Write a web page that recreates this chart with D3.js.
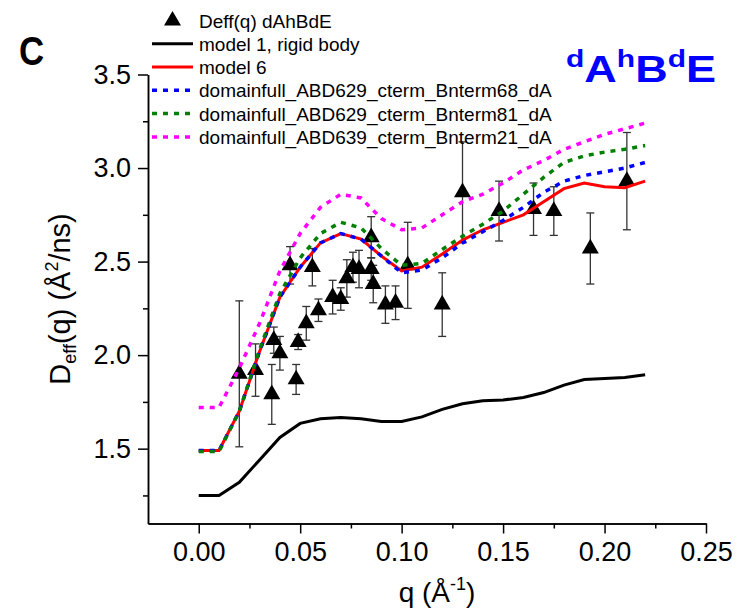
<!doctype html>
<html>
<head>
<meta charset="utf-8">
<title>Deff(q) dAhBdE</title>
<script src="https://d3js.org/d3.v7.min.js"></script>
<style>
    body { margin: 0; background: #fff; }
    text { font-family: "Liberation Sans", Arial, sans-serif; }
</style>
</head>
<body>
<script>
    // q grid of the model curves
    var qModel = [0, 0.01, 0.02, 0.03, 0.04, 0.05, 0.06, 0.07, 0.08, 0.09, 0.10, 0.11,
                  0.12, 0.13, 0.14, 0.15, 0.16, 0.17, 0.18, 0.19, 0.20, 0.21, 0.22];
    var model1 = [1.25, 1.25, 1.32, 1.44, 1.56, 1.635, 1.66, 1.667, 1.66, 1.645, 1.645, 1.67,
                  1.71, 1.74, 1.756, 1.76, 1.774, 1.80, 1.84, 1.87, 1.875, 1.88, 1.895];
    var model6 = [1.49, 1.49, 1.70, 2.02, 2.31, 2.47, 2.60, 2.65, 2.62, 2.53, 2.45, 2.47,
                  2.54, 2.615, 2.67, 2.71, 2.75, 2.82, 2.89, 2.92, 2.90, 2.895, 2.93];
    var bnterm68 = [1.49, 1.49, 1.70, 2.02, 2.31, 2.47, 2.60, 2.65, 2.62, 2.53, 2.44, 2.455,
                    2.52, 2.60, 2.66, 2.72, 2.79, 2.87, 2.93, 2.96, 2.98, 3.00, 3.03];
    var bnterm81 = [1.485, 1.485, 1.70, 2.03, 2.33, 2.52, 2.65, 2.71, 2.68, 2.57, 2.48, 2.49,
                    2.565, 2.635, 2.70, 2.77, 2.86, 2.95, 3.03, 3.065, 3.085, 3.10, 3.12];
    var bnterm21 = [1.72, 1.72, 1.93, 2.17, 2.45, 2.65, 2.79, 2.86, 2.84, 2.73, 2.67, 2.68,
                    2.75, 2.82, 2.86, 2.92, 2.99, 3.04, 3.10, 3.14, 3.18, 3.21, 3.24];

    // measured Deff(q) with error bars
    var qData = [0.020, 0.028, 0.036, 0.037, 0.040, 0.045, 0.048, 0.049, 0.053, 0.056, 0.059,
                 0.066, 0.070, 0.073, 0.076, 0.079, 0.085, 0.085, 0.086, 0.092, 0.097, 0.103,
                 0.120, 0.130, 0.148, 0.165, 0.175, 0.193, 0.211];
    var deffData = [1.90, 1.92, 1.79, 2.08, 2.01, 2.48, 1.87, 2.07, 2.17, 2.47, 2.24,
                    2.31, 2.30, 2.41, 2.47, 2.46, 2.63, 2.46, 2.38, 2.27, 2.28, 2.48,
                    2.27, 2.87, 2.77, 2.78, 2.77, 2.57, 2.93];
    var deffErr = [0.39, 0.14, 0.16, 0.07, 0.09, 0.10, 0.08, 0.04, 0.09, 0.10, 0.06,
                   0.09, 0.06, 0.10, 0.08, 0.10, 0.11, 0.06, 0.10, 0.10, 0.09, 0.23,
                   0.17, 0.27, 0.16, 0.14, 0.13, 0.19, 0.26];

    var xTicks = [0, 0.05, 0.10, 0.15, 0.20, 0.25];
    var xMinor = [0.025, 0.075, 0.125, 0.175, 0.225];
    var yTicks = [1.5, 2.0, 2.5, 3.0, 3.5];
    var yMinor = [1.25, 1.75, 2.25, 2.75, 3.25];

    var series = [
        {name: "model 1, rigid body", values: model1, color: "#000000", dash: null},
        {name: "model 6", values: model6, color: "#ff0000", dash: null},
        {name: "domainfull_ABD629_cterm_Bnterm68_dA", values: bnterm68, color: "#0000ff", dash: "5,6"},
        {name: "domainfull_ABD629_cterm_Bnterm81_dA", values: bnterm81, color: "#008000", dash: "5,6"},
        {name: "domainfull_ABD639_cterm_Bnterm21_dA", values: bnterm21, color: "#ff00ff", dash: "5,6"}
    ];

    // create SVG
    var svg = d3.select("body")
                .append("svg")
                .attr("width", 738)
                .attr("height", 611);

    var x = d3.scaleLinear().domain([-0.025, 0.25]).range([148, 706]);
    var y = d3.scaleLinear().domain([1.1, 3.5]).range([523.5, 74.5]);

    // axes
    svg.append("g")
        .attr("transform", "translate(0," + y(1.1) + ")")
        .call(d3.axisBottom(x).tickValues(xTicks).tickFormat(d3.format(".2f"))
              .tickSize(10).tickSizeOuter(0).tickPadding(8));
    svg.append("g")
        .attr("transform", "translate(0," + y(1.1) + ")")
        .call(d3.axisBottom(x).tickValues(xMinor).tickFormat("").tickSize(5).tickSizeOuter(0));

    svg.append("g")
        .attr("transform", "translate(" + x(-0.025) + ",0)")
        .call(d3.axisLeft(y).tickValues(yTicks).tickFormat(d3.format(".1f"))
              .tickSize(10).tickSizeOuter(0).tickPadding(7));
    svg.append("g")
        .attr("transform", "translate(" + x(-0.025) + ",0)")
        .call(d3.axisLeft(y).tickValues(yMinor).tickFormat("").tickSize(5).tickSizeOuter(0));

    svg.selectAll(".domain, .tick line")
        .attr("stroke", "#000")
        .attr("stroke-width", 1.5);
    svg.selectAll(".tick text")
        .attr("fill", "#000")
        .style("font-size", "27px")
        .style("font-family", "'Liberation Sans', Arial, sans-serif");

    // error bars
    var bars = svg.append("g").attr("stroke", "#333").attr("stroke-width", 1.3);
    qData.forEach(function(q, i) {
        var top = y(deffData[i] + deffErr[i]);
        var bot = y(deffData[i] - deffErr[i]);
        bars.append("line").attr("x1", x(q)).attr("x2", x(q)).attr("y1", top).attr("y2", bot);
        bars.append("line").attr("x1", x(q) - 4).attr("x2", x(q) + 4).attr("y1", top).attr("y2", top);
        bars.append("line").attr("x1", x(q) - 4).attr("x2", x(q) + 4).attr("y1", bot).attr("y2", bot);
    });

    // triangles
    var tri = d3.symbol().type(d3.symbolTriangle).size(125);
    svg.selectAll("path.pt")
        .data(qData)
        .enter()
        .append("path")
        .attr("class", "pt")
        .attr("d", tri)
        .attr("transform", function(d, i) {
            return "translate(" + x(d) + "," + y(deffData[i]) + ")";
        })
        .attr("fill", "#000");

    // model curves
    var line = d3.line()
        .x(function(d, i) { return x(qModel[i]); })
        .y(function(d) { return y(d); });

    svg.selectAll("path.model")
        .data(series)
        .enter()
        .append("path")
        .attr("class", "model")
        .attr("d", function(d) { return line(d.values); })
        .attr("fill", "none")
        .attr("stroke", function(d) { return d.color; })
        .attr("stroke-width", function(d) { return d.dash ? 3.5 : 3; })
        .attr("stroke-dasharray", function(d) { return d.dash; });

    // legend
    var rowY = [20.7, 43.7, 67, 90.3, 113.6, 137];
    var legend = svg.append("g");
    legend.append("path")
        .attr("d", tri)
        .attr("transform", "translate(172.5," + rowY[0] + ")")
        .attr("fill", "#000");
    legend.append("text")
        .attr("x", 199).attr("y", rowY[0] + 7)
        .style("font-size", "19px")
        .text("Deff(q) dAhBdE");
    series.forEach(function(s, i) {
        legend.append("line")
            .attr("x1", 152).attr("x2", 193)
            .attr("y1", rowY[i + 1]).attr("y2", rowY[i + 1])
            .attr("stroke", s.color)
            .attr("stroke-width", s.dash ? 3.5 : 3)
            .attr("stroke-dasharray", s.dash);
        legend.append("text")
            .attr("x", 199).attr("y", rowY[i + 1] + 7)
            .style("font-size", "19px")
            .text(s.name);
    });

    // axis titles
    var yTitle = svg.append("text")
        .attr("transform", "translate(70," + ((y(1.1) + y(3.5)) / 2) + ") rotate(-90)")
        .attr("text-anchor", "middle")
        .style("font-size", "29px");
    yTitle.append("tspan").text("D");
    yTitle.append("tspan").attr("dy", 6).style("font-size", "18px").text("eff");
    yTitle.append("tspan").attr("dy", -6).text("(q) (Å");
    yTitle.append("tspan").attr("dy", -12).style("font-size", "18px").text("2");
    yTitle.append("tspan").attr("dy", 12).text("/ns)");

    var xTitle = svg.append("text")
        .attr("x", 437)
        .attr("y", 602)
        .attr("text-anchor", "middle")
        .style("font-size", "28px");
    xTitle.append("tspan").text("q (Å");
    xTitle.append("tspan").attr("dy", -12).style("font-size", "18px").text("-1");
    xTitle.append("tspan").attr("dy", 12).text(")");

    // panel letter and construct name
    svg.append("text")
        .attr("transform", "translate(19,65) scale(0.85,1)")
        .style("font-size", "41px")
        .style("font-weight", "bold")
        .text("C");

    var construct = svg.append("text")
        .attr("transform", "translate(566,82) scale(1.25,1)")
        .attr("fill", "#0000ff")
        .style("font-size", "36px")
        .style("font-weight", "bold");
    [["d", "A"], ["h", "B"], ["d", "E"]].forEach(function(p) {
        construct.append("tspan").attr("dy", -15).style("font-size", "24px").text(p[0]);
        construct.append("tspan").attr("dy", 15).text(p[1]);
    });
</script>
</body>
</html>
